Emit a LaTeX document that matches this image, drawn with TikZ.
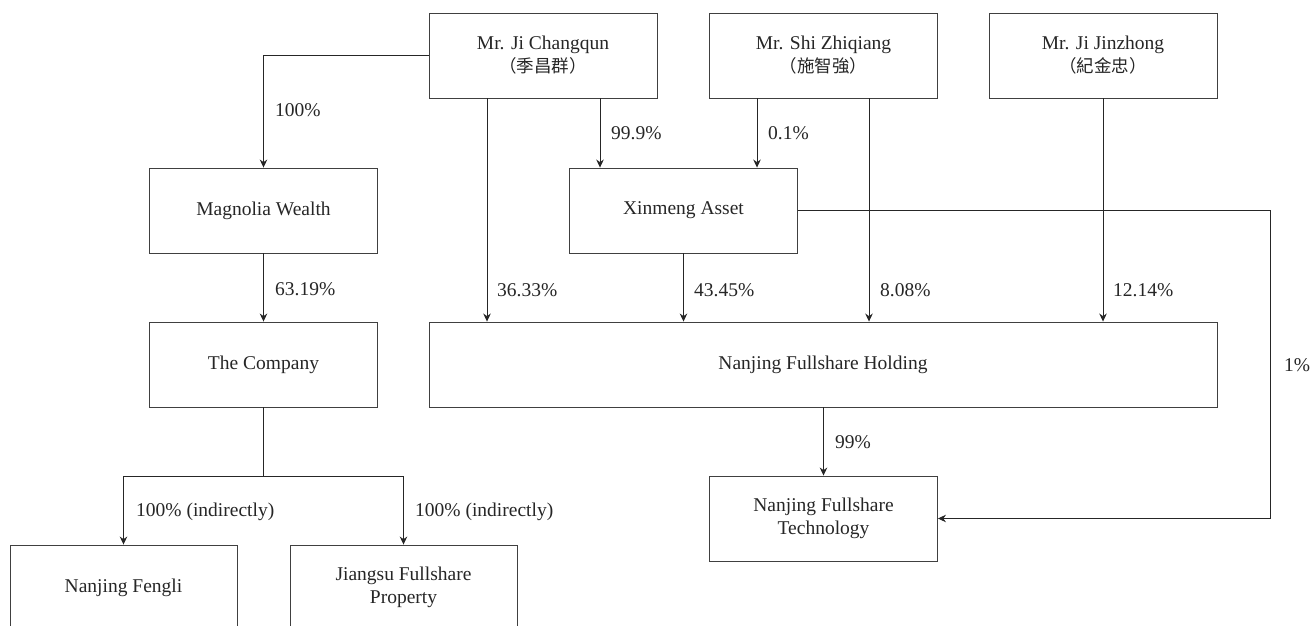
\documentclass[tikz,border=0pt]{standalone}
\usepackage{fontspec}
\setmainfont{Liberation Serif}
\newfontfamily\cjk{Noto Sans CJK TC}
\usetikzlibrary{arrows.meta}
\begin{document}
\begin{tikzpicture}[x=1pt,y=-1pt,
  box/.style={draw=black!75, line width=0.9pt, minimum width=228pt, minimum height=85pt,
    align=center, inner sep=0pt, text=black!85, font=\fontsize{19.5}{23}\selectfont},
  pct/.style={anchor=west, inner sep=0pt, text=black!85, font=\fontsize{19.5}{23}\selectfont},
  conn/.style={draw=black!85, line width=0.85pt, -{Stealth[length=8pt,width=7.5pt]}},
  plainline/.style={draw=black!85, line width=0.85pt}
]
\clip (0,0) rectangle (1311,626);
\newcommand{\cjkline}[1]{{\cjk\fontsize{17.5}{24}\selectfont #1}}
% boxes
\node[box] (jc) at (543,55.5) {Mr. Ji Changqun\\\cjkline{（季昌群）}};
\node[box] (sz) at (823.5,55.5) {Mr. Shi Zhiqiang\\\cjkline{（施智強）}};
\node[box] (jj) at (1103,55.5) {Mr. Ji Jinzhong\\\cjkline{（紀金忠）}};
\node[box] (mw) at (263.5,210.5) {Magnolia Wealth};
\node[box] (xa) at (683.5,210.5) {Xinmeng Asset};
\node[box] (co) at (263.5,364.5) {The Company};
\node[box, minimum width=788pt] (nh) at (823,364.5) {Nanjing Fullshare Holding};
\node[box] (nt) at (823.5,518.5) {Nanjing Fullshare\\Technology};
\node[box, minimum width=227pt] (nf) at (123.5,587.5) {Nanjing Fengli};
\node[box, minimum width=227pt] (jf) at (403.5,587.5) {Jiangsu Fullshare\\Property};
% helper coordinates
\coordinate (a1) at (487,0);
\coordinate (a2) at (600,0);
\coordinate (a3) at (757,0);
\coordinate (a4) at (869,0);
\coordinate (rr) at (1270,0);
\coordinate (br) at (263.5,476);
% connectors
\draw[conn] (jc.west) -| (mw.north);
\draw[conn] (jc.south -| a1) -- (nh.north -| a1);
\draw[conn] (jc.south -| a2) -- (xa.north -| a2);
\draw[conn] (sz.south -| a3) -- (xa.north -| a3);
\draw[conn] (sz.south -| a4) -- (nh.north -| a4);
\draw[conn] (jj.south) -- (nh.north -| jj.south);
\draw[conn] (mw.south) -- (co.north);
\draw[conn] (xa.south) -- (nh.north -| xa.south);
\draw[conn] (xa.east) -| (rr |- nt.east) -- (nt.east);
\draw[conn] (nh.south -| nt.north) -- (nt.north);
\draw[plainline] (co.south) -- (br);
\draw[conn] (br) -| (nf.north);
\draw[conn] (br) -| (jf.north);
% labels
\node[pct] (l1) at (275,110) {100\%};
\node[pct] (l2) at (611,133) {99.9\%};
\node[pct] (l3) at (768,133) {0.1\%};
\node[pct] (l4) at (275,289) {63.19\%};
\node[pct] (l5) at (497,290) {36.33\%};
\node[pct] (l6) at (694,290) {43.45\%};
\node[pct] (l7) at (880,290) {8.08\%};
\node[pct] (l8) at (1113,290) {12.14\%};
\node[pct] (l9) at (1284,365) {1\%};
\node[pct] (l10) at (835,442) {99\%};
\node[pct] (l11) at (136,512) {100\% (indirectly)};
\node[pct] (l12) at (415,512) {100\% (indirectly)};
\end{tikzpicture}
\end{document}
